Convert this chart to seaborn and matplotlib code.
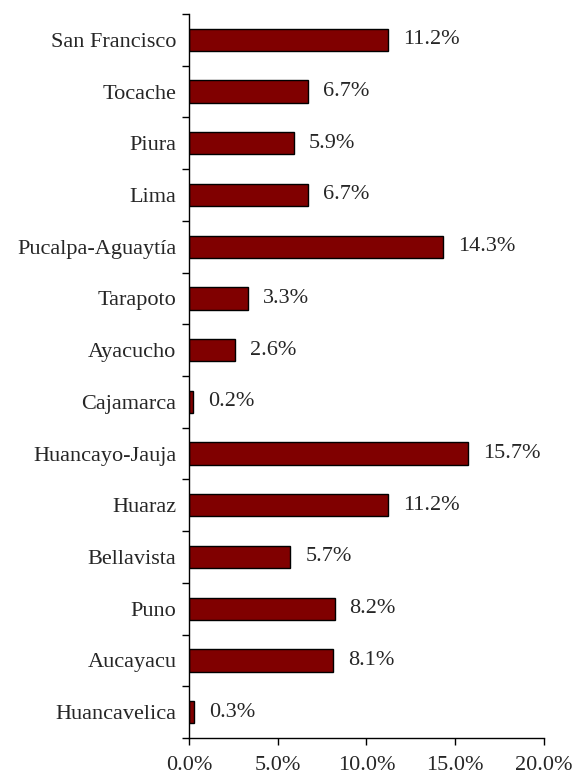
import matplotlib
matplotlib.use("Agg")
import matplotlib.pyplot as plt
import seaborn as sns
import pandas as pd
from matplotlib.ticker import FixedLocator, FuncFormatter

categories = ["San Francisco", "Tocache", "Piura", "Lima", "Pucalpa-Aguaytía",
              "Tarapoto", "Ayacucho", "Cajamarca", "Huancayo-Jauja", "Huaraz",
              "Bellavista", "Puno", "Aucayacu", "Huancavelica"]
values = [11.2, 6.7, 5.9, 6.7, 14.3, 3.3, 2.6, 0.2, 15.7, 11.2, 5.7, 8.2, 8.1, 0.3]
xticks = [0, 5, 10, 15, 20]

sns.set_style("white")
plt.rcParams['font.family'] = ['Liberation Serif', 'DejaVu Serif']

df = pd.DataFrame({"city": categories, "value": values})

fig = plt.figure(figsize=(5.78, 7.76), dpi=100)
ax = fig.add_axes([0.327, 0.049, 0.614, 0.933])
sns.barplot(data=df, y="city", x="value", orient="h", color="#800000",
            edgecolor="black", linewidth=1.0, width=0.43, ax=ax, saturation=1)

ax.set_xlim(0, 20)
ax.set_ylim(len(categories) - 0.5, -0.5)
ax.set_xlabel("")
ax.set_ylabel("")
for s in ["top", "right"]:
    ax.spines[s].set_visible(False)
for s in ["left", "bottom"]:
    ax.spines[s].set_color("black")
    ax.spines[s].set_linewidth(1.0)

FS = 16
ax.xaxis.set_major_locator(FixedLocator(xticks))
ax.xaxis.set_major_formatter(FuncFormatter(lambda v, p: f"{v:.1f}%"))
ax.tick_params(axis="x", direction="out", length=5, width=1, color="black",
               labelsize=FS, pad=8, bottom=True)
ax.tick_params(axis="y", which="major", length=0, labelsize=FS, pad=9, left=True)
ax.set_yticks([i + 0.5 for i in range(-1, len(categories))], minor=True)
ax.tick_params(axis="y", which="minor", direction="out", length=5, width=1,
               color="black", left=True)

for i, v in enumerate(values):
    ax.text(v + 0.85, i, f"{v:.1f}%", va="center", ha="left", fontsize=FS)

fig.savefig("out.png", dpi=100)
